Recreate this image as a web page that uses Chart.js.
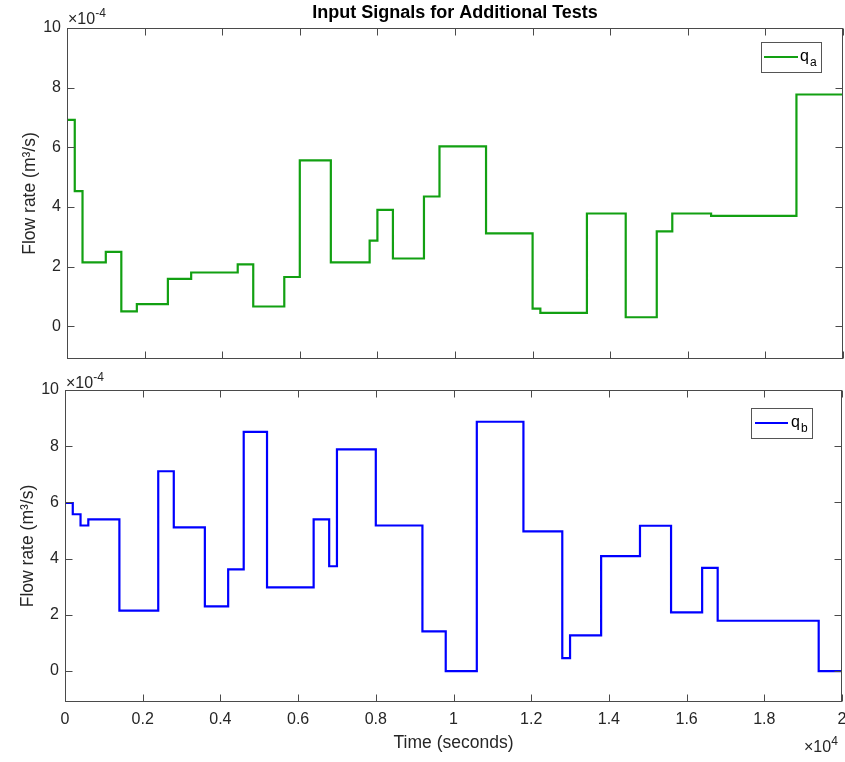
<!DOCTYPE html>
<html>
<head>
<meta charset="utf-8">
<script src="https://cdn.jsdelivr.net/npm/chart.js@4.4.1/dist/chart.umd.min.js"></script>
<style>
  html, body { margin: 0; padding: 0; background: #fff; }
  #wrap { position: relative; width: 845px; height: 762px; }
  #topBox { position: absolute; left: 0; top: 0; width: 845px; height: 370px; }
  #botBox { position: absolute; left: 0; top: 370px; width: 845px; height: 392px; }
</style>
</head>
<body>
<div id="wrap">
  <div id="topBox"><canvas id="chartA"></canvas></div>
  <div id="botBox"><canvas id="chartB"></canvas></div>
</div>
<script>
// time in seconds, flow rate in units of 1e-4 m^3/s
const endTime = 20000;
const qaTimes = [0, 200, 400, 1000, 1400, 1800, 2600, 3200, 4400, 4800, 5600, 6000, 6800, 7800, 8000, 8400, 9200, 9600, 10800, 12000, 12200, 13400, 14400, 15200, 15600, 16600, 18800];
const qaValues = [6.92, 4.53, 2.14, 2.49, 0.50, 0.74, 1.59, 1.80, 2.07, 0.66, 1.65, 5.56, 2.14, 2.87, 3.90, 2.27, 4.35, 6.03, 3.11, 0.59, 0.45, 3.78, 0.30, 3.18, 3.78, 3.70, 7.77];
const qbTimes = [0, 200, 400, 600, 1400, 2400, 2800, 3600, 4200, 4600, 5200, 6400, 6800, 7000, 8000, 9200, 9800, 10600, 11800, 12800, 13000, 13800, 14800, 15600, 16400, 16800, 19400];
const qbValues = [5.98, 5.58, 5.18, 5.40, 2.15, 7.11, 5.11, 2.30, 3.62, 8.51, 2.98, 5.40, 3.73, 7.89, 5.18, 1.41, 0, 8.87, 4.97, 0.46, 1.27, 4.09, 5.17, 2.09, 3.67, 1.79, 0];

const xTickValues = [0, 2000, 4000, 6000, 8000, 10000, 12000, 14000, 16000, 18000, 20000];
const xTickLabels = ['0', '0.2', '0.4', '0.6', '0.8', '1', '1.2', '1.4', '1.6', '1.8', '2'];
const yTickValues = [0, 2, 4, 6, 8, 10];
const yTickLabels = ['0', '2', '4', '6', '8', '10'];

const FONT = '"Liberation Sans", Arial, Helvetica, sans-serif';
const TEXT = '#262626';
const AXIS = '#4a4a4a';
const GREEN = '#12a012';
const BLUE = '#0000ff';
const TICK_SIZE = 16;
const LABEL_SIZE = 17.5;

Chart.defaults.font.family = FONT;

function toPoints(times, values) {
    const pts = times.map((t, i) => ({ x: t, y: values[i] }));
    pts.push({ x: endTime, y: values[values.length - 1] });
    return pts;
}

// box, inward ticks, legend, title and exponent labels in MATLAB style
const matlabAxes = {
    id: 'matlabAxes',
    afterDraw(chart, args, opts) {
        const { ctx, chartArea: a, scales } = chart;
        ctx.save();
        ctx.strokeStyle = AXIS;
        ctx.lineWidth = 1;
        const L = Math.round(a.left) + 0.5, R = Math.round(a.right) - 0.5;
        const T = Math.round(a.top) + 0.5, B = Math.round(a.bottom) - 0.5;
        ctx.strokeRect(L, T, R - L, B - T);
        const tl = 7;
        ctx.beginPath();
        xTickValues.forEach(v => {
            const px = Math.round(scales.x.getPixelForValue(v)) + 0.5;
            ctx.moveTo(px, B); ctx.lineTo(px, B - tl);
            ctx.moveTo(px, T); ctx.lineTo(px, T + tl);
        });
        yTickValues.forEach(v => {
            const py = Math.round(scales.y.getPixelForValue(v)) + 0.5;
            ctx.moveTo(L, py); ctx.lineTo(L + tl, py);
            ctx.moveTo(R, py); ctx.lineTo(R - tl, py);
        });
        ctx.stroke();

        // title centred on the axes
        if (opts.title) {
            ctx.fillStyle = '#000';
            ctx.font = 'bold 18px ' + FONT;
            ctx.textAlign = 'center';
            ctx.textBaseline = 'middle';
            ctx.fillText(opts.title, (a.left + a.right) / 2, 13);
        }

        // legend
        const lg = opts.legend;
        ctx.fillStyle = '#fff';
        ctx.fillRect(lg.box[0], lg.box[1], lg.box[2] - lg.box[0], lg.box[3] - lg.box[1]);
        ctx.strokeStyle = '#555';
        ctx.lineWidth = 1;
        ctx.strokeRect(lg.box[0] + 0.5, lg.box[1] + 0.5, lg.box[2] - lg.box[0], lg.box[3] - lg.box[1]);
        ctx.strokeStyle = lg.color;
        ctx.lineWidth = 2;
        ctx.beginPath();
        ctx.moveTo(lg.line[0], lg.line[2]);
        ctx.lineTo(lg.line[1], lg.line[2]);
        ctx.stroke();
        ctx.fillStyle = '#000';
        ctx.textBaseline = 'alphabetic';
        ctx.textAlign = 'left';
        ctx.font = '16px ' + FONT;
        ctx.fillText(lg.text, lg.tx, lg.ty);
        const w = ctx.measureText(lg.text).width;
        ctx.font = '12px ' + FONT;
        ctx.fillText(lg.sub, lg.tx + w + 1, lg.ty + 5);

        // exponent labels
        ctx.fillStyle = TEXT;
        (opts.exponents || []).forEach(e => {
            ctx.font = '16px ' + FONT;
            ctx.fillText('\u00d710', e.x, e.y);
            const bw = ctx.measureText('\u00d710').width;
            ctx.font = '12px ' + FONT;
            ctx.fillText(e.pow, e.x + bw, e.y - 7);
        });
        ctx.restore();
    }
};

function yScale(width, titlePad) {
    return {
        type: 'linear',
        min: -1.1,
        max: 10,
        grid: { display: false, drawTicks: false },
        border: { display: false },
        afterBuildTicks(s) { s.ticks = yTickValues.map(v => ({ value: v })); },
        afterFit(s) { s.width = width; s.paddingTop = 0; s.paddingBottom = 0; },
        ticks: {
            padding: 6,
            color: TEXT,
            font: { size: TICK_SIZE },
            callback: (v, i) => yTickLabels[i]
        },
        title: {
            display: true,
            text: 'Flow rate (m\u00b3/s)',
            color: TEXT,
            font: { size: LABEL_SIZE },
            padding: { top: titlePad, bottom: 0 }
        }
    };
}

new Chart(document.getElementById('chartA'), {
    type: 'line',
    data: {
        datasets: [{
            label: 'q_a',
            data: toPoints(qaTimes, qaValues),
            borderColor: GREEN,
            borderWidth: 2.2,
            stepped: true,
            pointRadius: 0,
            fill: false
        }]
    },
    options: {
        responsive: true,
        maintainAspectRatio: false,
        animation: false,
        layout: { padding: { top: 28, right: 2, left: 0, bottom: 0 } },
        plugins: {
            legend: { display: false },
            tooltip: { enabled: false },
            title: { display: false },
            matlabAxes: {
                title: 'Input Signals for Additional Tests',
                legend: { box: [761, 42, 821, 72], line: [764, 798, 57], color: GREEN, text: 'q', sub: 'a', tx: 800, ty: 61 },
                exponents: [{ x: 68, y: 24, pow: '-4' }]
            }
        },
        scales: {
            x: {
                type: 'linear',
                min: 0,
                max: endTime,
                grid: { display: false, drawTicks: false },
                border: { display: false },
                ticks: { display: false },
                afterFit(s) { s.height = 11; s.paddingLeft = 0; s.paddingRight = 0; }
            },
            y: yScale(67, 19.5)
        }
    },
    plugins: [matlabAxes]
});

new Chart(document.getElementById('chartB'), {
    type: 'line',
    data: {
        datasets: [{
            label: 'q_b',
            data: toPoints(qbTimes, qbValues),
            borderColor: BLUE,
            borderWidth: 2.2,
            stepped: true,
            pointRadius: 0,
            fill: false
        }]
    },
    options: {
        responsive: true,
        maintainAspectRatio: false,
        animation: false,
        layout: { padding: { top: 20, right: 3, left: 0, bottom: 0 } },
        plugins: {
            legend: { display: false },
            tooltip: { enabled: false },
            matlabAxes: {
                legend: { box: [751, 38, 812, 68], line: [755, 788, 53], color: BLUE, text: 'q', sub: 'b', tx: 791, ty: 57 },
                exponents: [{ x: 66, y: 18, pow: '-4' }, { x: 804, y: 382, pow: '4' }]
            }
        },
        scales: {
            x: {
                type: 'linear',
                min: 0,
                max: endTime,
                grid: { display: false, drawTicks: false },
                border: { display: false },
                afterBuildTicks(s) { s.ticks = xTickValues.map(v => ({ value: v })); },
                afterFit(s) { s.height = 60; s.paddingLeft = 0; s.paddingRight = 0; },
                ticks: {
                    padding: 8,
                    color: TEXT,
                    font: { size: TICK_SIZE },
                    autoSkip: false,
                    maxRotation: 0,
                    callback: (v, i) => xTickLabels[i]
                },
                title: {
                    display: true,
                    text: 'Time (seconds)',
                    color: TEXT,
                    font: { size: LABEL_SIZE },
                    padding: { top: 0, bottom: 8.5 }
                }
            },
            y: yScale(65, 17.5)
        }
    },
    plugins: [matlabAxes]
});
</script>
</body>
</html>
